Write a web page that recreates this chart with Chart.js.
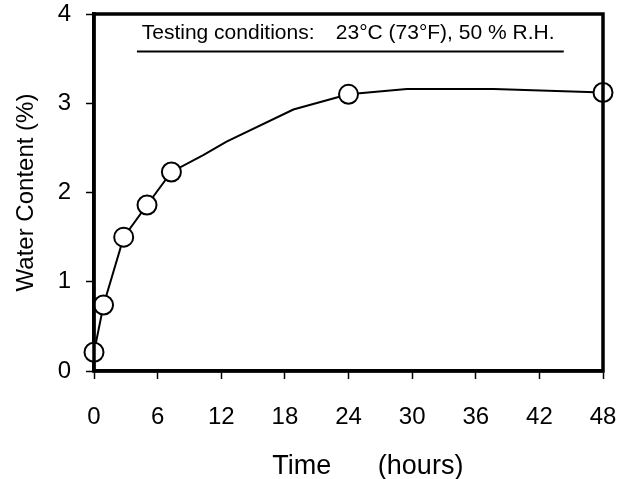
<!DOCTYPE html>
<html>
<head>
<meta charset="utf-8">
<script src="https://cdn.jsdelivr.net/npm/chart.js@4"></script>
<style>
  html, body { margin: 0; padding: 0; background: #fff; }
  #wrap { width: 623px; height: 479px; }
</style>
</head>
<body>
<div id="wrap"><canvas id="waterChart" width="623" height="479"></canvas></div>
<script>
// curve through the readings (hours, % water)
const curveHours = [0, 0.9, 2.8, 5, 7.3, 10.3, 12.5, 18.8, 24, 29.5, 37.7, 48];
const curveWater = [0.21, 0.74, 1.5, 1.86, 2.23, 2.42, 2.57, 2.93, 3.10, 3.16, 3.16, 3.12];
// measured points shown with open circles
const markHours = [0, 0.9, 2.8, 5, 7.3, 24, 48];
const markWater = [0.21, 0.74, 1.5, 1.86, 2.23, 3.10, 3.12];
const xTicks = [0, 6, 12, 18, 24, 30, 36, 42, 48];
const yTicks = [0, 1, 2, 3, 4];

const noteLeft = 'Testing conditions:';
const noteRight = '23\u00B0C (73\u00B0F), 50 % R.H.';
const xTitleA = 'Time';
const xTitleB = '(hours)';
const yTitle = 'Water Content (%)';

const FONT = '"Liberation Sans", Arial, Helvetica, sans-serif';

function pts(xs, ys) {
  return xs.map((x, i) => ({ x: x, y: ys[i] }));
}

// box frame, note and x title
const extras = {
  id: 'extras',
  afterDraw(chart) {
    const ctx = chart.ctx;
    const a = chart.chartArea;
    const xs = chart.scales.x, ys = chart.scales.y;
    ctx.save();
    ctx.strokeStyle = '#000';
    ctx.lineWidth = 3.5;
    ctx.strokeRect(a.left, a.top, a.right - a.left, a.bottom - a.top);

    ctx.fillStyle = '#000';
    ctx.font = '21px ' + FONT;
    ctx.textBaseline = 'alphabetic';
    ctx.textAlign = 'left';
    ctx.fillText(noteLeft, xs.getPixelForValue(4.5), ys.getPixelForValue(3.725));
    ctx.fillText(noteRight, xs.getPixelForValue(22.8), ys.getPixelForValue(3.725));
    ctx.lineWidth = 2;
    ctx.beginPath();
    ctx.moveTo(xs.getPixelForValue(4.05), ys.getPixelForValue(3.58));
    ctx.lineTo(xs.getPixelForValue(44.3), ys.getPixelForValue(3.58));
    ctx.stroke();

    ctx.font = '27px ' + FONT;
    ctx.textAlign = 'center';
    ctx.fillText(xTitleA, xs.getPixelForValue(19.6), chart.height - 5);
    ctx.fillText(xTitleB, xs.getPixelForValue(30.8), chart.height - 5);
    ctx.restore();
  }
};

new Chart(document.getElementById('waterChart').getContext('2d'), {
  type: 'scatter',
  data: {
    datasets: [
      {
        label: 'curve',
        data: pts(curveHours, curveWater),
        showLine: true,
        borderColor: '#000',
        borderWidth: 2,
        pointRadius: 0,
        tension: 0,
        clip: false,
        order: 2
      },
      {
        label: 'measured',
        data: pts(markHours, markWater),
        showLine: false,
        pointRadius: 9.5,
        pointBorderWidth: 2,
        pointBorderColor: '#000',
        pointBackgroundColor: '#fff',
        clip: false,
        order: 1
      }
    ]
  },
  options: {
    responsive: false,
    animation: false,
    events: [],
    layout: { padding: { top: 14, right: 20, bottom: 0, left: 0 } },
    plugins: {
      legend: { display: false },
      tooltip: { enabled: false }
    },
    scales: {
      x: {
        type: 'linear',
        min: 0,
        max: 48,
        afterBuildTicks: s => { s.ticks = xTicks.map(v => ({ value: v })); },
        afterFit: s => { s.height = 108; s.paddingLeft = 0; s.paddingRight = 0; },
        grid: { drawOnChartArea: false, drawTicks: true, tickLength: 8, tickWidth: 1.5, tickColor: '#000' },
        border: { display: true, color: '#000', width: 3.5 },
        ticks: { color: '#000', padding: 24, font: { family: FONT, size: 24 } },
        title: { display: false }
      },
      y: {
        type: 'linear',
        min: 0,
        max: 4,
        afterBuildTicks: s => { s.ticks = yTicks.map(v => ({ value: v })); },
        afterFit: s => { s.width = 94; s.paddingTop = 0; s.paddingBottom = 0; },
        grid: { drawOnChartArea: false, drawTicks: true, tickLength: 8, tickWidth: 1.5, tickColor: '#000' },
        border: { display: true, color: '#000', width: 3.5 },
        ticks: { color: '#000', padding: 15, font: { family: FONT, size: 24 } },
        title: {
          display: true,
          text: yTitle,
          color: '#000',
          padding: { top: 12, bottom: 0 },
          font: { family: FONT, size: 24 }
        }
      }
    }
  },
  plugins: [extras]
});
</script>
</body>
</html>
